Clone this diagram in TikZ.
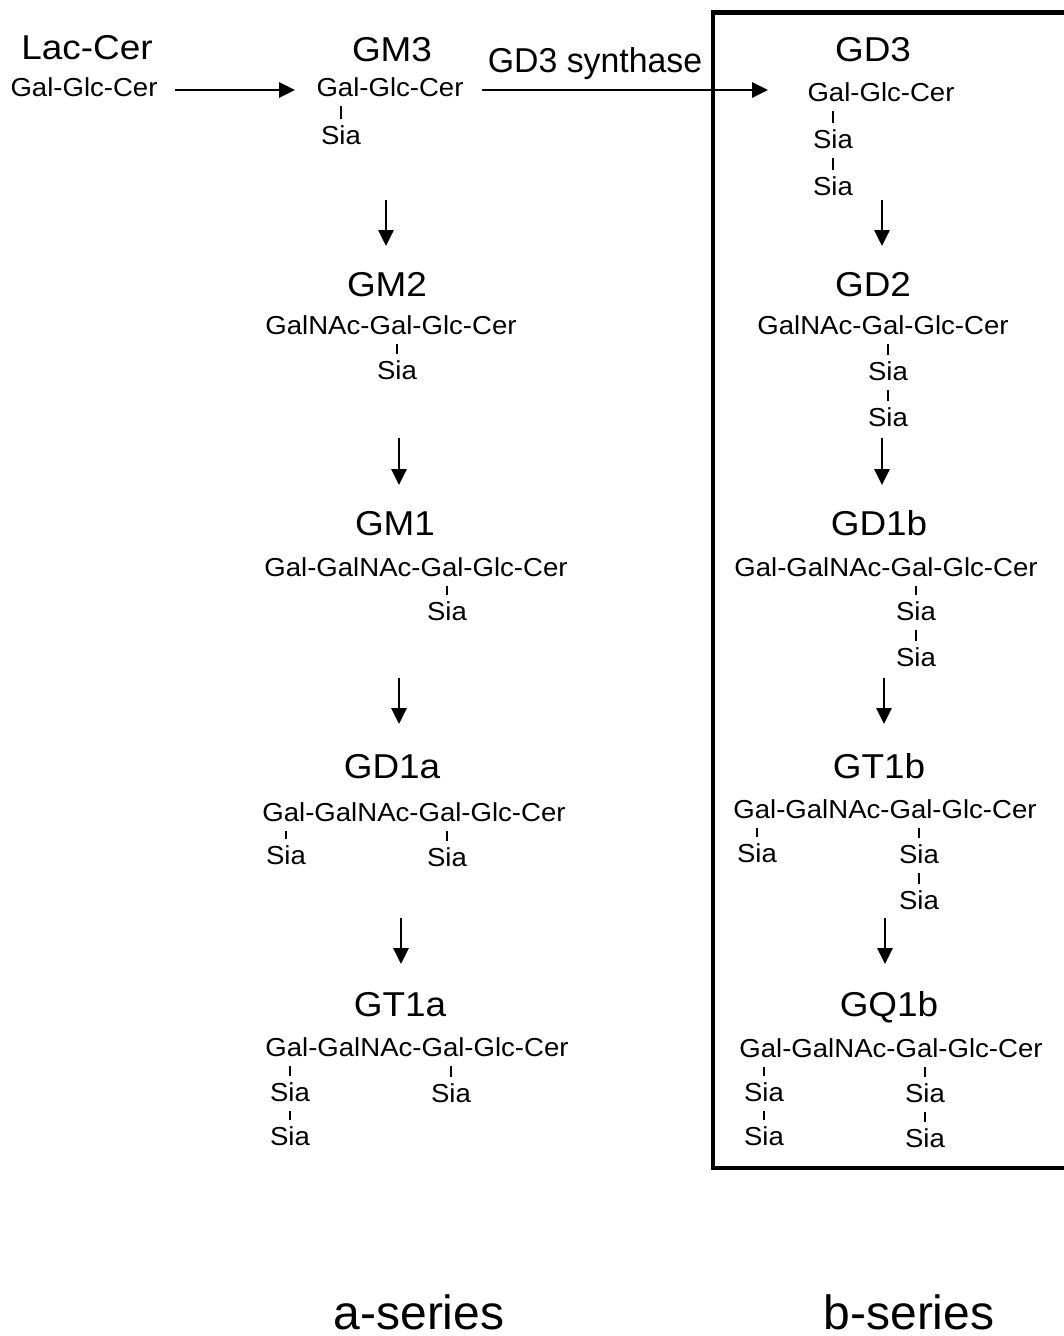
\documentclass[tikz,border=0pt]{standalone}
\usepackage{fontspec}
\setmainfont{Liberation Sans}
\newfontfamily\titlefont[FakeStretch=1.07]{Liberation Sans}
\newfontfamily\synfont[FakeStretch=0.98]{Liberation Sans}
\newfontfamily\chainfont[FakeStretch=1.06]{Liberation Sans}
\usetikzlibrary{arrows.meta,calc}
\newcommand\siabond[2]{\draw[bond] ($(#1.north)+(0,-6)$) -- ($(#1.north |- #2.south)+(0,10)$);}
\begin{document}
\begin{tikzpicture}[x=1pt,y=-1pt,
  title/.style={anchor=base,inner sep=0pt,font=\titlefont\fontsize{34.5}{34.5}\selectfont},
  syn/.style={anchor=base,inner sep=0pt,font=\synfont\fontsize{34.5}{34.5}\selectfont},
  chain/.style={anchor=base,inner sep=0pt,font=\chainfont\fontsize{26}{26}\selectfont},
  sia/.style={chain},
  series/.style={anchor=base,inner sep=0pt,font=\fontsize{48}{48}\selectfont},
  rxn/.style={line width=2.8pt,-{Triangle[length=16pt,width=15pt]}},
  bond/.style={line width=1.4pt},
  frame/.style={line width=4.5pt}]
\useasboundingbox (0,0) rectangle (1064,1336);

% ---- Lac-Cer
\node[title] (lac) at (87,59) {Lac-Cer};
\node[chain] (lacc) at (84,96) {Gal-Glc-Cer};

% ---- GM3
\node[title] (gm3) at (392,61) {GM3};
\node[chain] (gm3c) at (390,96) {Gal-Glc-Cer};
\node[sia] (gm3s) at (341,144) {Sia};
\siabond{gm3s}{gm3c}

% ---- GD3 synthase arrow
\node[syn] (syn) at (595,72) {GD3 synthase};
\coordinate (r1a) at (175,90); \coordinate (r1b) at (295,90);
\coordinate (r2a) at (482,90); \coordinate (r2b) at (768,90);
\draw[rxn] (r1a) -- (r1b);
\draw[rxn] (r2a) -- (r2b);

% ---- frame of b-series
\draw[frame] (1070,12.5) -- (713,12.5) -- (713,1168) -- (1070,1168);

% ---- GD3
\node[title] (gd3) at (873,61) {GD3};
\node[chain] (gd3c) at (881,101) {Gal-Glc-Cer};
\node[sia] (gd3s1) at (833,148) {Sia};
\node[sia] (gd3s2) at (833,195) {Sia};
\siabond{gd3s1}{gd3c}
\siabond{gd3s2}{gd3s1}

% ---- GM2
\node[title] (gm2) at (387,296) {GM2};
\node[chain] (gm2c) at (391,334) {GalNAc-Gal-Glc-Cer};
\node[sia] (gm2s) at (397,379) {Sia};
\siabond{gm2s}{gm2c}

% ---- GD2
\node[title] (gd2) at (873,296) {GD2};
\node[chain] (gd2c) at (883,334) {GalNAc-Gal-Glc-Cer};
\node[sia] (gd2s1) at (888,380) {Sia};
\node[sia] (gd2s2) at (888,426) {Sia};
\siabond{gd2s1}{gd2c}
\siabond{gd2s2}{gd2s1}

% ---- GM1
\node[title] (gm1) at (395,535) {GM1};
\node[chain] (gm1c) at (416,576) {Gal-GalNAc-Gal-Glc-Cer};
\node[sia] (gm1s) at (447,620) {Sia};
\siabond{gm1s}{gm1c}

% ---- GD1b
\node[title] (gd1b) at (879,535) {GD1b};
\node[chain] (gd1bc) at (886,576) {Gal-GalNAc-Gal-Glc-Cer};
\node[sia] (gd1bs1) at (916,620) {Sia};
\node[sia] (gd1bs2) at (916,666) {Sia};
\siabond{gd1bs1}{gd1bc}
\siabond{gd1bs2}{gd1bs1}

% ---- GD1a
\node[title] (gd1a) at (392,778) {GD1a};
\node[chain] (gd1ac) at (414,821) {Gal-GalNAc-Gal-Glc-Cer};
\node[sia] (gd1as1) at (286,864) {Sia};
\node[sia] (gd1as2) at (447,866) {Sia};
\siabond{gd1as1}{gd1ac}
\siabond{gd1as2}{gd1ac}

% ---- GT1b
\node[title] (gt1b) at (879,778) {GT1b};
\node[chain] (gt1bc) at (885,818) {Gal-GalNAc-Gal-Glc-Cer};
\node[sia] (gt1bs1) at (757,862) {Sia};
\node[sia] (gt1bs2) at (919,863) {Sia};
\node[sia] (gt1bs3) at (919,909) {Sia};
\siabond{gt1bs1}{gt1bc}
\siabond{gt1bs2}{gt1bc}
\siabond{gt1bs3}{gt1bs2}

% ---- GT1a
\node[title] (gt1a) at (400,1016) {GT1a};
\node[chain] (gt1ac) at (417,1056) {Gal-GalNAc-Gal-Glc-Cer};
\node[sia] (gt1as1) at (290,1101) {Sia};
\node[sia] (gt1as2) at (290,1145) {Sia};
\node[sia] (gt1as3) at (451,1102) {Sia};
\siabond{gt1as1}{gt1ac}
\siabond{gt1as2}{gt1as1}
\siabond{gt1as3}{gt1ac}

% ---- GQ1b
\node[title] (gq1b) at (889,1016) {GQ1b};
\node[chain] (gq1bc) at (891,1057) {Gal-GalNAc-Gal-Glc-Cer};
\node[sia] (gq1bs1) at (764,1101) {Sia};
\node[sia] (gq1bs2) at (764,1145) {Sia};
\node[sia] (gq1bs3) at (925,1102) {Sia};
\node[sia] (gq1bs4) at (925,1147) {Sia};
\siabond{gq1bs1}{gq1bc}
\siabond{gq1bs2}{gq1bs1}
\siabond{gq1bs3}{gq1bc}
\siabond{gq1bs4}{gq1bs3}

% ---- vertical reaction arrows
\coordinate (la1) at (386,200); \coordinate (lb1) at (386,246);
\coordinate (la2) at (399,438); \coordinate (lb2) at (399,485);
\coordinate (la3) at (399,678); \coordinate (lb3) at (399,724);
\coordinate (la4) at (401,918); \coordinate (lb4) at (401,964);
\coordinate (ra1) at (882,200); \coordinate (rb1) at (882,246);
\coordinate (ra2) at (882,438); \coordinate (rb2) at (882,485);
\coordinate (ra3) at (884,678); \coordinate (rb3) at (884,724);
\coordinate (ra4) at (885,918); \coordinate (rb4) at (885,964);
\foreach \i in {1,2,3,4} {
  \draw[rxn] (la\i) -- (lb\i);
  \draw[rxn] (ra\i) -- (rb\i);
}

% ---- series labels
\node[series] (aser) at (419,1329) {a-series};
\node[series] (bser) at (909,1329) {b-series};
\end{tikzpicture}
\end{document}
